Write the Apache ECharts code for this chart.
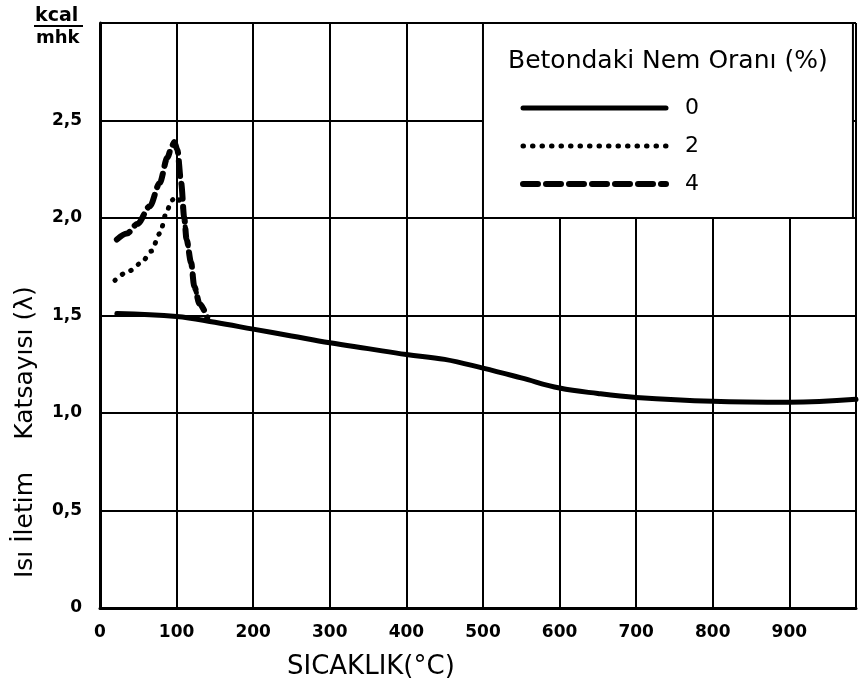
<!DOCTYPE html>
<html>
<head>
<meta charset="utf-8">
<script src="https://cdn.jsdelivr.net/npm/echarts@6/dist/echarts.min.js"></script>
<style>
html,body{margin:0;padding:0;background:#fff;}
#chart{width:859px;height:686px;}
</style>
</head>
<body>
<div id="chart"></div>
<script>
// ---- data ----
const seriesNames = ['0', '2', '4'];
const temp0   = [22, 100, 150, 200, 250, 300, 350, 400, 450, 500, 550, 600, 650, 700, 800, 900, 987];
const lambda0 = [1.51, 1.495, 1.465, 1.43, 1.395, 1.36, 1.33, 1.30, 1.275, 1.23, 1.18, 1.128, 1.10, 1.08, 1.06, 1.055, 1.07];
const temp2   = [19.5, 39, 54, 67, 78, 87, 93, 100, 108, 110, 113, 119, 123, 130, 140];
const lambda2 = [1.68, 1.73, 1.77, 1.83, 1.92, 2.03, 2.09, 2.11, 2.06, 2.00, 1.89, 1.77, 1.65, 1.56, 1.49];
const temp4   = [22, 35, 49, 65, 78, 88, 94, 97, 101, 106, 110, 113, 119, 123, 130, 140];
const lambda4 = [1.89, 1.92, 1.97, 2.06, 2.18, 2.31, 2.37, 2.39, 2.35, 2.18, 2.00, 1.89, 1.77, 1.65, 1.56, 1.49];
const xTickLabels = ['0','100','200','300','400','500','600','700','800','900'];
const yTickLabels = ['0','0,5','1,0','1,5','2,0','2,5'];
const xTitle = 'SICAKLIK(°C)';
const yTitleA = 'Isı İletim';
const yTitleB = 'Katsayısı (λ)';
const legendTitle = 'Betondaki Nem Oranı (%)';
const unitTop = 'kcal', unitBottom = 'mhk';
// legend box corners in data space
const legendBoxFrom = [500, 2.0], legendBoxTo = [983, 3.0];

const zip = (xs, ys) => xs.map((x, i) => [x, ys[i]]);
const FONT = 'DejaVu Sans';
const styles = [
  {color: '#000', width: 5, type: 'solid', cap: 'round'},
  {color: '#000', width: 5, type: [0.5, 9], cap: 'round'},
  {color: '#000', width: 6, type: [15, 8], cap: 'round'}
];

const chart = echarts.init(document.getElementById('chart'), null, {renderer: 'canvas'});
chart.setOption({
  animation: false,
  backgroundColor: '#fff',
  grid: {left: 100, top: 23, right: -2, bottom: 78, containLabel: false},
  xAxis: {
    type: 'value', min: 0, max: 987, interval: 100,
    axisLine: {show: true, onZero: false, lineStyle: {color: '#000', width: 3}},
    axisTick: {show: false},
    splitLine: {show: true, lineStyle: {color: '#000', width: 2}},
    axisLabel: {
      margin: 16, color: '#000', fontFamily: FONT, fontWeight: 'bold', fontSize: 17,
      formatter: v => { const i = Math.round(v / 100); return (Math.abs(v - i * 100) < 1e-6 && i < xTickLabels.length) ? xTickLabels[i] : ''; }
    }
  },
  yAxis: {
    type: 'value', min: 0, max: 3, interval: 0.5,
    axisLine: {show: true, onZero: false, lineStyle: {color: '#000', width: 3}},
    axisTick: {show: false},
    splitLine: {show: true, lineStyle: {color: '#000', width: 2}},
    axisLabel: {
      margin: 18, color: '#000', fontFamily: FONT, fontWeight: 'bold', fontSize: 17,
      formatter: v => { const i = Math.round(v / 0.5); return i < yTickLabels.length ? yTickLabels[i] : ''; }
    }
  },
  title: {
    text: legendTitle, left: 508, top: 49, padding: 0,
    textStyle: {fontFamily: FONT, fontWeight: 'normal', fontSize: 25, color: '#000'}
  },
  legend: {
    orient: 'vertical', left: 520, top: 96, padding: 0,
    itemWidth: 143, itemHeight: 14, itemGap: 14,
    data: seriesNames.map((n, i) => ({name: n, lineStyle: styles[i]})),
    itemStyle: {opacity: 0},
    formatter: n => '  ' + n,
    textStyle: {fontFamily: FONT, fontSize: 22, color: '#000', lineHeight: 24},
    selectedMode: false
  },
  series: [
    {
      name: seriesNames[0], type: 'line', data: zip(temp0, lambda0),
      symbol: 'none', smooth: 0.4, z: 3, itemStyle: {color: '#000'},
      lineStyle: styles[0],
      markArea: {
        silent: true, z: 2,
        itemStyle: {color: '#fff', borderColor: '#000', borderWidth: 2, opacity: 1},
        data: [[{coord: legendBoxFrom}, {coord: legendBoxTo}]]
      }
    },
    {
      name: seriesNames[1], type: 'line', data: zip(temp2, lambda2),
      symbol: 'none', smooth: 0.3, smoothMonotone: 'x', z: 3, itemStyle: {color: '#000'},
      lineStyle: styles[1]
    },
    {
      name: seriesNames[2], type: 'line', data: zip(temp4, lambda4),
      symbol: 'none', smooth: 0.3, smoothMonotone: 'x', z: 3, itemStyle: {color: '#000'},
      lineStyle: styles[2]
    }
  ],
  graphic: [
    {type: 'text', left: 287, top: 654, style: {text: xTitle, font: '26px "DejaVu Sans"', fill: '#000'}},
    {type: 'text', x: 25, y: 525, rotation: Math.PI / 2,
     style: {text: yTitleA, font: '25px "DejaVu Sans"', fill: '#000', align: 'center', verticalAlign: 'middle'}},
    {type: 'text', x: 25, y: 363, rotation: Math.PI / 2,
     style: {text: yTitleB, font: '25px "DejaVu Sans"', fill: '#000', align: 'center', verticalAlign: 'middle'}},
    {type: 'text', left: 35, top: 7, style: {text: unitTop, font: 'bold 19px "DejaVu Sans"', fill: '#000'}},
    {type: 'line', shape: {x1: 34, y1: 26, x2: 83, y2: 26}, style: {stroke: '#000', lineWidth: 2}},
    {type: 'text', left: 36, top: 29, style: {text: unitBottom, font: 'bold 18px "DejaVu Sans"', fill: '#000'}}
  ]
});
</script>
</body>
</html>
